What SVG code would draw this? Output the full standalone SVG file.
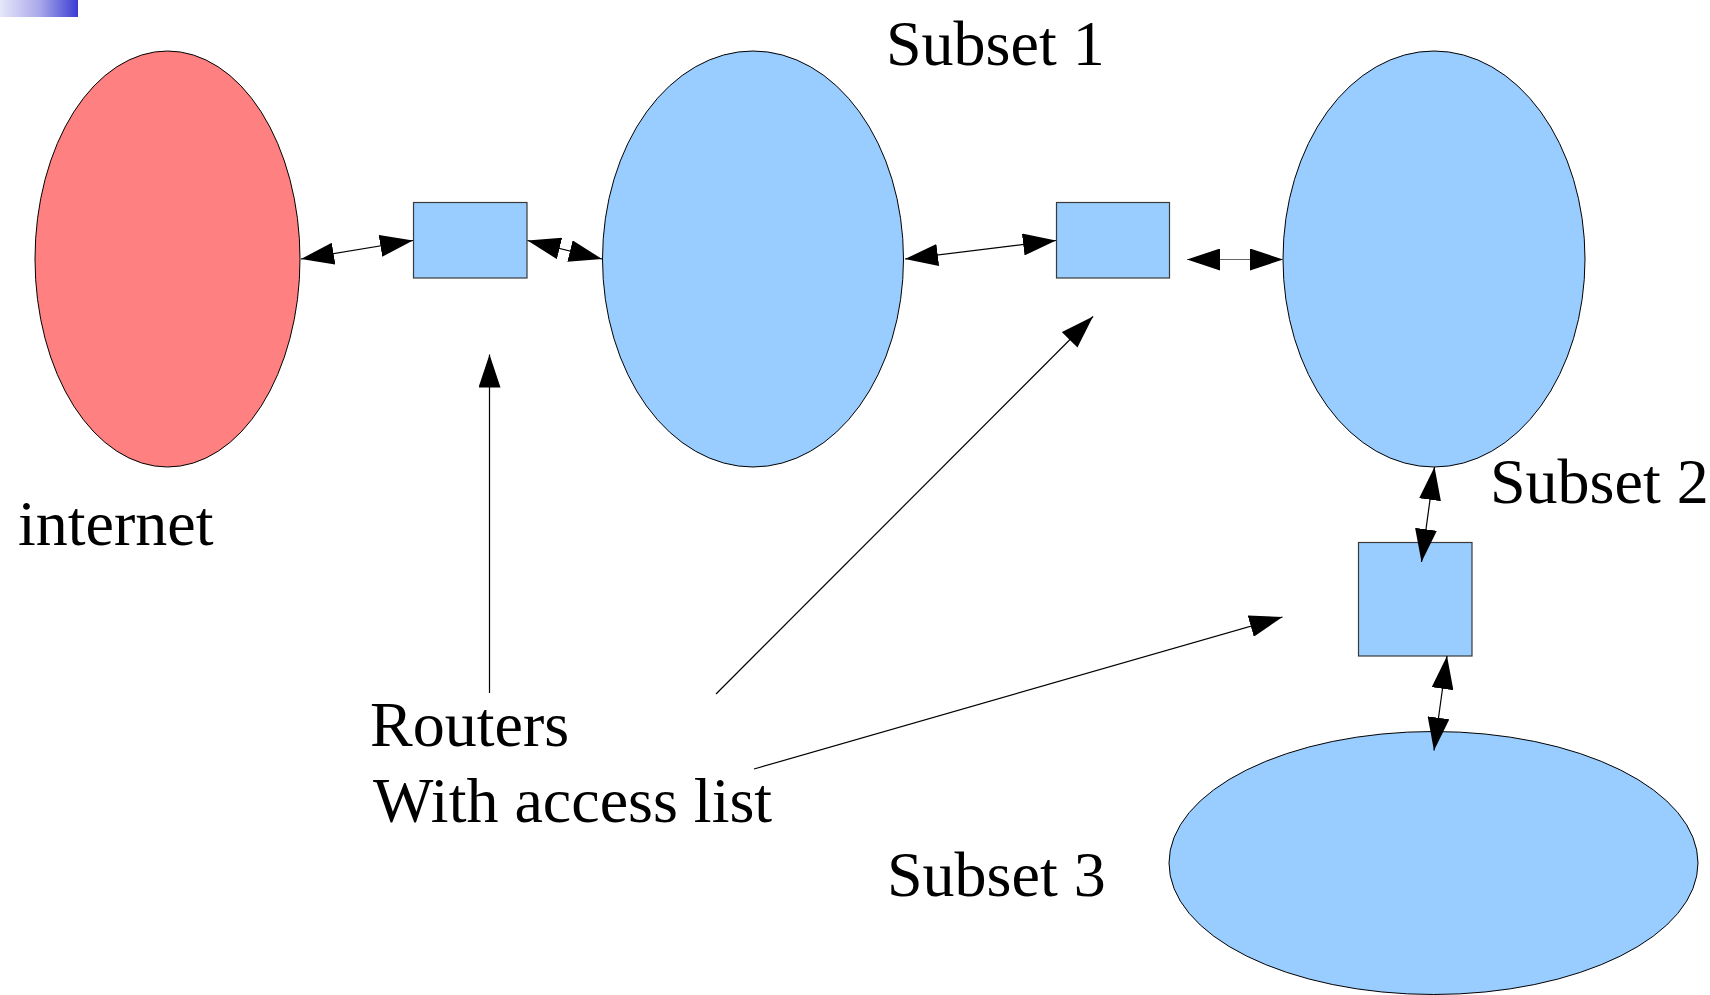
<svg xmlns="http://www.w3.org/2000/svg" width="1710" height="995" viewBox="0 0 1710 995">
  <defs>
    <style>
      .net { stroke: #000; stroke-width: 1; }
      .internet { fill: #ff8080; }
      .subnet { fill: #99ccff; }
      .router { fill: #99ccff; stroke: #3a3a3a; stroke-width: 1.2; }
      .link { stroke: #000; stroke-width: 1.2; fill: none; }
      .label { font-family: "Liberation Serif", "Times New Roman", serif; font-size: 64px; fill: #000; }
    </style>
    <marker id="head" viewBox="0 0 33 22" refX="33" refY="11" markerWidth="33" markerHeight="22" markerUnits="userSpaceOnUse" orient="auto-start-reverse">
      <path d="M0,0 L33,11 L0,22 z" fill="#000"/>
    </marker>
    <linearGradient id="band" x1="0" y1="0" x2="1" y2="0">
      <stop offset="0" stop-color="#e6e6fa"/>
      <stop offset="0.5" stop-color="#aaaaea"/>
      <stop offset="1" stop-color="#3c3cd4"/>
    </linearGradient>
  </defs>

  <rect width="1710" height="995" fill="#fff"/>

  <!-- corner band -->
  <rect x="0" y="0" width="78" height="17" fill="url(#band)"/>

  <!-- networks -->
  <g id="internet">
    <ellipse class="net internet" cx="167.5" cy="259" rx="132.5" ry="208"/>
    <text class="label" x="18" y="545">internet</text>
  </g>
  <g id="subset1">
    <ellipse class="net subnet" cx="753" cy="259" rx="150.5" ry="208"/>
    <text class="label" x="886" y="65">Subset 1</text>
  </g>
  <g id="subset2">
    <ellipse class="net subnet" cx="1434" cy="259" rx="151" ry="208"/>
    <text class="label" x="1490" y="503">Subset 2</text>
  </g>
  <g id="subset3">
    <ellipse class="net subnet" cx="1433.5" cy="863" rx="264.5" ry="131.5"/>
    <text class="label" x="887" y="896">Subset 3</text>
  </g>

  <!-- routers -->
  <g id="router1">
    <rect class="router" x="413.5" y="202.5" width="113.5" height="75.5"/>
  </g>
  <g id="router2">
    <rect class="router" x="1056.5" y="202.5" width="113" height="75.5"/>
  </g>
  <g id="router3">
    <rect class="router" x="1358.5" y="542.5" width="113.5" height="113.5"/>
  </g>

  <!-- callout text -->
  <g id="routers-label">
    <text class="label" x="370" y="746">Routers</text>
    <text class="label" x="373" y="822">With access list</text>
  </g>

  <!-- connectors -->
  <g id="connectors">
    <line class="link" x1="301" y1="259" x2="413" y2="240.5" marker-start="url(#head)" marker-end="url(#head)"/>
    <line class="link" x1="527.5" y1="240.5" x2="602" y2="259" marker-start="url(#head)" marker-end="url(#head)"/>
    <line class="link" x1="905" y1="259" x2="1056" y2="240.5" marker-start="url(#head)" marker-end="url(#head)"/>
    <line class="link" x1="1187" y1="259.5" x2="1283" y2="259.5" stroke="#666" style="stroke:#666" marker-start="url(#head)" marker-end="url(#head)"/>
    <line class="link" x1="1434.5" y1="467" x2="1421.5" y2="562" marker-start="url(#head)" marker-end="url(#head)"/>
    <line class="link" x1="1447" y1="656" x2="1434" y2="750.5" marker-start="url(#head)" marker-end="url(#head)"/>
    <line class="link" x1="489.5" y1="693" x2="489.5" y2="354.5" marker-end="url(#head)"/>
    <line class="link" x1="716" y1="694" x2="1093" y2="316.5" marker-end="url(#head)"/>
    <line class="link" x1="754" y1="769" x2="1282.5" y2="617" marker-end="url(#head)"/>
  </g>
</svg>
